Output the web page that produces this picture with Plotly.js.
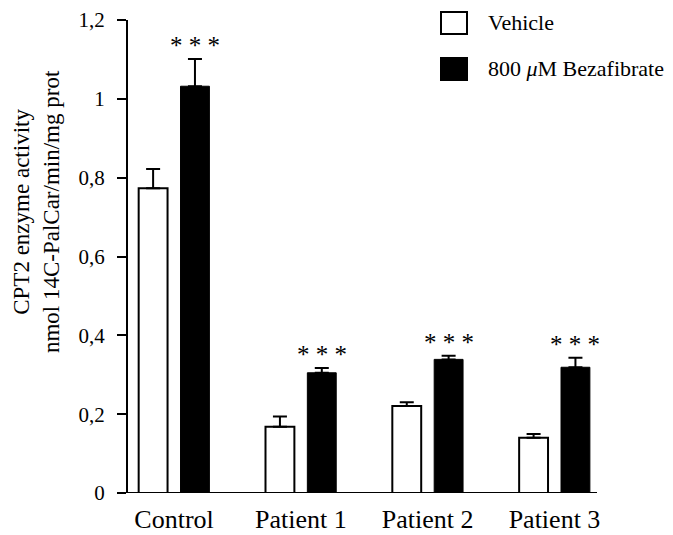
<!DOCTYPE html>
<html>
<head>
<meta charset="utf-8">
<script src="https://cdn.plot.ly/plotly-3.0.1.min.js"></script>
<style>html,body{margin:0;padding:0;background:#fff}#chart{width:673px;height:535px}</style>
</head>
<body>
<div id="chart"></div>
<script>
var categories = ["Control", "Patient 1", "Patient 2", "Patient 3"];
var vehicleValues = [0.773, 0.168, 0.221, 0.140];
var vehicleErrors = [0.049, 0.026, 0.009, 0.010];
var bezaValues = [1.032, 0.305, 0.339, 0.319];
var bezaErrors = [0.069, 0.012, 0.009, 0.024];
var significance = ["* * *", "* * *", "* * *", "* * *"];
var seriesNames = ["Vehicle", "800 <i>\u03bc</i>M Bezafibrate"];
var yTickValues = [0, 0.2, 0.4, 0.6, 0.8, 1, 1.2];

var FONT = "'Liberation Serif', 'Times New Roman', Times, serif";
var bargap = 0.34, bargroupgap = 0.31;
var half = (1 - bargap) / 4; // centre offset of each bar in its group

var zeros = vehicleValues.map(function(){return 0;});
var traces = [
  {type: "bar", x: categories, y: vehicleValues, name: seriesNames[0],
   marker: {color: "#ffffff", line: {color: "#000000", width: 2}},
   error_y: {type: "data", array: vehicleErrors, arrayminus: zeros, symmetric: false,
             color: "#000000", thickness: 2, width: 7},
   showlegend: false, hoverinfo: "skip"},
  {type: "bar", x: categories, y: bezaValues, name: seriesNames[1],
   marker: {color: "#000000", line: {color: "#000000", width: 1}},
   error_y: {type: "data", array: bezaErrors, arrayminus: zeros, symmetric: false,
             color: "#000000", thickness: 2, width: 7},
   showlegend: false, hoverinfo: "skip"}
];

var annotations = categories.map(function(c, i){
  return {x: i + half, y: bezaValues[i] + bezaErrors[i], xref: "x", yref: "y",
          text: significance[i], showarrow: false, yanchor: "bottom", yshift: -2,
          font: {family: FONT, size: 25, color: "#000"}};
});
annotations.push({
  xref: "paper", yref: "paper", x: -0.195, y: 0.595, textangle: -90,
  text: "CPT2 enzyme activity<br>nmol 14C-PalCar/min/mg prot",
  showarrow: false, xanchor: "center", yanchor: "middle",
  font: {family: FONT, size: 23, color: "#000"}
});
// legend labels
var legY = [23, 69];
var pxX = function(p){ return (p - 128) / 469; };
var pxY = function(p){ return (493 - p) / 473; };
seriesNames.forEach(function(n, i){
  annotations.push({xref: "paper", yref: "paper", x: pxX(486), y: pxY(legY[i]),
    xanchor: "left", yanchor: "middle", text: n, showarrow: false,
    font: {family: FONT, size: 22, color: "#000"}});
});
var shapes = [
  {type: "rect", xref: "paper", yref: "paper", x0: pxX(441), x1: pxX(467),
   y0: pxY(12), y1: pxY(34), fillcolor: "#fff", line: {color: "#000", width: 2}},
  {type: "rect", xref: "paper", yref: "paper", x0: pxX(441), x1: pxX(467),
   y0: pxY(58), y1: pxY(80), fillcolor: "#000", line: {color: "#000", width: 2}},
  {type: "line", xref: "paper", yref: "y", x0: pxX(117), x1: 1, y0: 0, y1: 0,
   line: {color: "#000", width: 2}}
];

var layout = {
  width: 673, height: 535,
  margin: {l: 128, r: 76, t: 20, b: 42, pad: 0},
  paper_bgcolor: "#fff", plot_bgcolor: "#fff",
  separators: ",.",
  barmode: "group", bargap: bargap, bargroupgap: bargroupgap,
  showlegend: false,
  font: {family: FONT, color: "#000"},
  xaxis: {type: "category", range: [-0.363, 3.335], showline: false, ticks: "",
          showgrid: false, zeroline: false, ticklabelstandoff: 8,
          tickfont: {family: FONT, size: 26, color: "#000"}},
  yaxis: {range: [0, 1.2], tickvals: yTickValues, showline: true, linecolor: "#000",
          linewidth: 2, ticks: "outside", ticklen: 9, tickwidth: 2, tickcolor: "#000",
          showgrid: false, zeroline: false, ticklabelstandoff: 8,
          tickfont: {family: FONT, size: 21, color: "#000"}},
  annotations: annotations,
  shapes: shapes
};
Plotly.newPlot("chart", traces, layout, {staticPlot: true, displayModeBar: false});
</script>
</body>
</html>
